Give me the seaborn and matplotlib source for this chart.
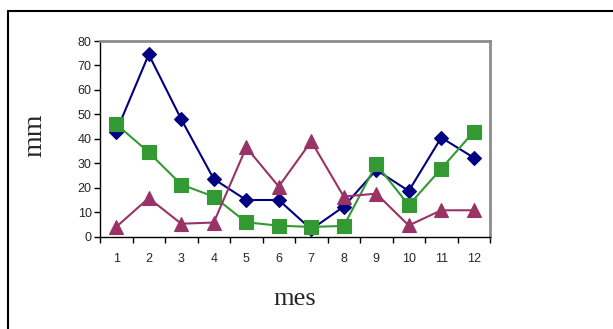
import numpy as np
import pandas as pd
import matplotlib
matplotlib.use("Agg")
import matplotlib.pyplot as plt
from matplotlib.lines import Line2D
import seaborn as sns

# Monthly precipitation (mm) for three series
meses = list(range(1, 13))
serie1 = [43, 74.5, 48, 23.6, 15, 15, 3, 12.3, 27.3, 18.7, 40.5, 32.3]
serie2 = [46, 34.5, 21.3, 16.4, 5.9, 4.5, 4, 4.4, 29.6, 12.9, 27.8, 42.9]
serie3 = [4, 15.8, 5.3, 5.8, 36.5, 20.5, 39, 16.4, 17.6, 4.6, 10.8, 10.8]
nombres = ["Serie1", "Serie2", "Serie3"]
colores = ["#000080", "#339933", "#993366"]
marcadores = ["D", "s", "^"]
tamanos = [7.5, 9.5, 9.5]

df = pd.DataFrame({
    "mes": meses * 3,
    "mm": serie1 + serie2 + serie3,
    "serie": [n for n in nombres for _ in meses],
})

sns.set_style("white")
plt.rcParams["font.family"] = ["Liberation Sans", "DejaVu Sans"]

W, H = 613, 329
fig = plt.figure(figsize=(W / 100, H / 100), dpi=100)
ax = fig.add_axes([100 / W, (H - 236.7) / H, 390 / W, (236.7 - 41) / H])

for nombre, color, marca, tam in zip(nombres, colores, marcadores, tamanos):
    sns.lineplot(data=df[df["serie"] == nombre], x="mes", y="mm", ax=ax,
                 color=color, marker=marca, markersize=tam,
                 markeredgecolor=color, markeredgewidth=0.8,
                 linewidth=1.5, legend=False, clip_on=False)

ax.set_xlim(0.5, 12.5)
ax.set_ylim(0, 80)
ax.set_yticks(np.arange(0, 81, 10))
ax.set_xticks(meses)
ax.set_xticks(np.arange(0.5, 12.6, 1), minor=True)
ax.tick_params(axis="x", which="major", length=0, pad=11.5, labelsize=9)
ax.tick_params(axis="x", which="minor", length=4, width=1, direction="out",
               bottom=True, color="black")
ax.tick_params(axis="y", length=4, width=1, direction="out", left=True,
               labelsize=9, pad=2, color="black")

ax.set_xlabel("")
ax.set_ylabel("")
for lado in ["left", "bottom"]:
    ax.spines[lado].set_color("black")
    ax.spines[lado].set_linewidth(1.0)
for lado in ["top", "right"]:
    ax.spines[lado].set_color("#8c8c8c")
    ax.spines[lado].set_linewidth(2.0)
ax.set_facecolor("white")

fig.text(294.5 / W, 1 - 299 / H, "mes", family="Liberation Serif",
         fontsize=19, ha="center", va="center")
fig.text(35 / W, 1 - 135 / H, "mm", family="Liberation Serif",
         fontsize=20, ha="center", va="center", rotation=90)

# frame around the chart area (left and top edges)
fig.add_artist(Line2D([8 / W, 8 / W], [0, 1 - 11 / H], transform=fig.transFigure,
                      color="black", linewidth=1.5))
fig.add_artist(Line2D([8 / W, 1], [1 - 11 / H, 1 - 11 / H], transform=fig.transFigure,
                      color="black", linewidth=1.5))

fig.savefig("out.png", dpi=100, facecolor="white")
